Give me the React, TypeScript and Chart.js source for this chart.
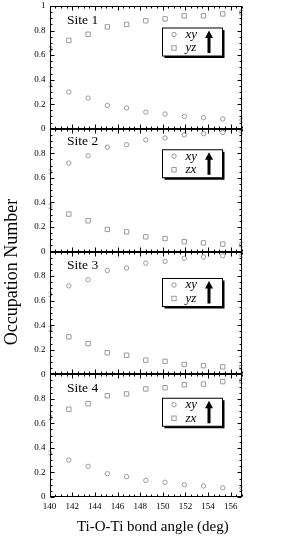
import React, { useEffect, useRef } from 'react';
import { Chart, registerables } from 'chart.js';

Chart.register(...registerables);

// Ti-O-Ti bond angle (deg)
const angles = [140, 141.7, 143.4, 145.1, 146.8, 148.5, 150.2, 151.9, 153.6, 155.3, 157];

// Occupation numbers per site
const site1Xy = [0.36, 0.3, 0.25, 0.19, 0.17, 0.135, 0.12, 0.1, 0.09, 0.08, 0.07];
const site1Yz = [0.65, 0.72, 0.77, 0.83, 0.85, 0.88, 0.895, 0.92, 0.92, 0.935, 0.945];
const site2Xy = [0.65, 0.72, 0.78, 0.85, 0.87, 0.91, 0.925, 0.95, 0.96, 0.97, 0.975];
const site2Zx = [0.37, 0.305, 0.25, 0.18, 0.16, 0.12, 0.105, 0.08, 0.07, 0.06, 0.055];
const site3Xy = [0.65, 0.72, 0.77, 0.845, 0.865, 0.905, 0.92, 0.945, 0.955, 0.965, 0.97];
const site3Yz = [0.37, 0.305, 0.25, 0.175, 0.155, 0.115, 0.105, 0.08, 0.07, 0.06, 0.055];
const site4Xy = [0.36, 0.3, 0.25, 0.19, 0.165, 0.135, 0.12, 0.1, 0.09, 0.075, 0.07];
const site4Zx = [0.65, 0.715, 0.76, 0.825, 0.84, 0.88, 0.89, 0.915, 0.92, 0.94, 0.945];

const siteNames = ['Site 1', 'Site 2', 'Site 3', 'Site 4'];
const firstOrbital = ['xy', 'xy', 'xy', 'xy'];
const secondOrbital = ['yz', 'zx', 'yz', 'zx'];
const panelIds = ['y1', 'y2', 'y3', 'y4'];
const firstSeries = [site1Xy, site2Xy, site3Xy, site4Xy];
const secondSeries = [site1Yz, site2Zx, site3Yz, site4Zx];

const xTitle = 'Ti-O-Ti bond angle (deg)';
const yTitle = 'Occupation Number';

const SERIF = "'Liberation Serif', 'Times New Roman', serif";
const POINT_COLOR = '#9a9a9a';
const legendOffsets = [22, 21, 27, 24];
const siteOffsets = [14, 13, 14, 14];

function drawCircle(ctx: CanvasRenderingContext2D, x: number, y: number) {
  ctx.beginPath();
  ctx.arc(x, y, 2.2, 0, Math.PI * 2);
  ctx.stroke();
}
function drawSquare(ctx: CanvasRenderingContext2D, x: number, y: number) {
  ctx.strokeRect(x - 2.2, y - 2.2, 4.4, 4.4);
}

const panelPlugin = {
  id: 'panels',
  afterDatasetsDraw(chart: any) {
    const ctx: CanvasRenderingContext2D = chart.ctx;
    const xs = chart.scales.x;
    const l = Math.round(xs.left) + 0.5;
    const r = Math.round(xs.right) - 0.5;
    ctx.save();
    panelIds.forEach((id, i) => {
      const s = chart.scales[id];
      const t = Math.round(s.top) + 0.5;
      const b = Math.round(s.bottom) - 0.5;
      ctx.strokeStyle = '#000';
      ctx.lineWidth = 1;
      ctx.strokeRect(l, t, r - l, b - t);
      // y ticks (inward, both sides)
      ctx.beginPath();
      for (let k = 0; k <= 20; k++) {
        const py = Math.round(s.getPixelForValue(k * 0.05)) + 0.5;
        const len = k % 4 === 0 ? 4 : 2;
        ctx.moveTo(l, py); ctx.lineTo(l + len, py);
        ctx.moveTo(r, py); ctx.lineTo(r - len, py);
      }
      // x ticks (inward, top and bottom)
      for (let k = 0; k <= 34; k++) {
        const px = Math.round(xs.getPixelForValue(140 + k * 0.5)) + 0.5;
        const len = k % 4 === 0 ? 4 : 2;
        ctx.moveTo(px, t); ctx.lineTo(px, t + len);
        ctx.moveTo(px, b); ctx.lineTo(px, b - len);
      }
      ctx.stroke();

      // Site label
      ctx.fillStyle = '#000';
      ctx.font = `13.5px ${SERIF}`;
      ctx.textAlign = 'left';
      ctx.textBaseline = 'middle';
      ctx.fillText(siteNames[i], l + 16.5, s.top + siteOffsets[i]);

      // Legend box
      const bx = l + 112;
      const by = s.top + legendOffsets[i];
      const bw = 60, bh = 28;
      ctx.fillStyle = '#000';
      ctx.fillRect(bx + 2, by + 2, bw, bh);
      ctx.fillStyle = '#fff';
      ctx.fillRect(bx, by, bw, bh);
      ctx.strokeStyle = '#000';
      ctx.strokeRect(bx, by, bw, bh);
      ctx.strokeStyle = POINT_COLOR;
      drawCircle(ctx, bx + 11.5, by + 6.5);
      drawSquare(ctx, bx + 11.5, by + 20);
      ctx.fillStyle = '#000';
      ctx.font = `italic 13px ${SERIF}`;
      ctx.fillText(firstOrbital[i], bx + 23, by + 6.5);
      ctx.fillText(secondOrbital[i], bx + 23, by + 20);
      // arrow
      const ax = bx + 46.5;
      ctx.fillRect(ax - 1.5, by + 9, 3, 16);
      ctx.beginPath();
      ctx.moveTo(ax - 4, by + 10);
      ctx.lineTo(ax + 4, by + 10);
      ctx.lineTo(ax, by + 2.5);
      ctx.closePath();
      ctx.fill();
    });
    // x axis title
    ctx.fillStyle = '#000';
    ctx.font = `15px ${SERIF}`;
    ctx.textAlign = 'center';
    ctx.textBaseline = 'middle';
    ctx.fillText(xTitle, (xs.left + xs.right) / 2 + 7, 527);
    ctx.restore();
  },
};

export default function App() {
  const ref = useRef<HTMLCanvasElement>(null);
  useEffect(() => {
    if (!ref.current) return;
    const edgeClip = { left: 1, right: 1, top: 0, bottom: 0 };
    const datasets: any[] = [];
    panelIds.forEach((id, i) => {
      datasets.push({
        label: firstOrbital[i],
        data: angles.map((a, j) => ({ x: a, y: firstSeries[i][j] })),
        yAxisID: id,
        pointStyle: 'circle',
        pointRadius: 2.2,
        borderColor: POINT_COLOR,
        backgroundColor: 'rgba(0,0,0,0)',
        borderWidth: 1,
        showLine: false,
        clip: edgeClip,
      });
      datasets.push({
        label: secondOrbital[i],
        data: angles.map((a, j) => ({ x: a, y: secondSeries[i][j] })),
        yAxisID: id,
        pointStyle: 'rect',
        pointRadius: 3.1,
        borderColor: POINT_COLOR,
        backgroundColor: 'rgba(0,0,0,0)',
        borderWidth: 1,
        showLine: false,
        clip: edgeClip,
      });
    });
    // stacked axes are placed bottom-up in definition order, so define the last panel first
    const yScales: any = {};
    [...panelIds].reverse().forEach((id) => {
      yScales[id] = {
        type: 'linear',
        position: 'left',
        stack: 'panels',
        stackWeight: 1,
        min: 0,
        max: 1,
        grid: { display: false, drawTicks: false },
        border: { display: false },
        afterFit: (scale: any) => {
          scale.width = 27;
          scale.paddingTop = 0;
          scale.paddingBottom = 0;
        },
        ticks: {
          stepSize: 0.2,
          autoSkip: false,
          padding: 4,
          color: '#000',
          font: { family: SERIF, size: 9 },
          callback: (v: number) => {
            if (Math.abs(v) < 1e-9) return '0';
            if (Math.abs(v - 1) < 1e-9) return id === 'y1' ? '1' : '';
            return v.toFixed(1);
          },
        },
      };
    });
    const chart = new Chart(ref.current, {
      type: 'scatter',
      data: { datasets },
      plugins: [panelPlugin],
      options: {
        animation: false,
        responsive: false,
        layout: { padding: { left: 0, right: 55, top: 6, bottom: 0 } },
        plugins: {
          legend: { display: false },
          tooltip: { enabled: false },
          title: {
            display: true,
            text: yTitle,
            position: 'left',
            color: '#000',
            font: { family: SERIF, size: 18, weight: 'normal' },
            padding: { top: 1, bottom: 0 },
          },
        },
        scales: {
          x: {
            type: 'linear',
            position: 'bottom',
            min: 140,
            max: 157,
            grid: { display: false, drawTicks: false },
            border: { display: false },
            afterFit: (scale: any) => {
              scale.height = 41;
              scale.paddingLeft = 0;
              scale.paddingRight = 0;
            },
            ticks: {
              stepSize: 2,
              includeBounds: false,
              autoSkip: false,
              maxRotation: 0,
              padding: 4,
              color: '#000',
              font: { family: SERIF, size: 9 },
              callback: (v: number) => String(v),
            },
          },
          ...yScales,
        },
      } as any,
    });
    return () => chart.destroy();
  }, []);
  return (
    <div style={{ position: 'absolute', left: 0, top: 0, width: 297, height: 538, background: '#fff' }}>
      <canvas ref={ref} width={297} height={538} />
    </div>
  );
}
